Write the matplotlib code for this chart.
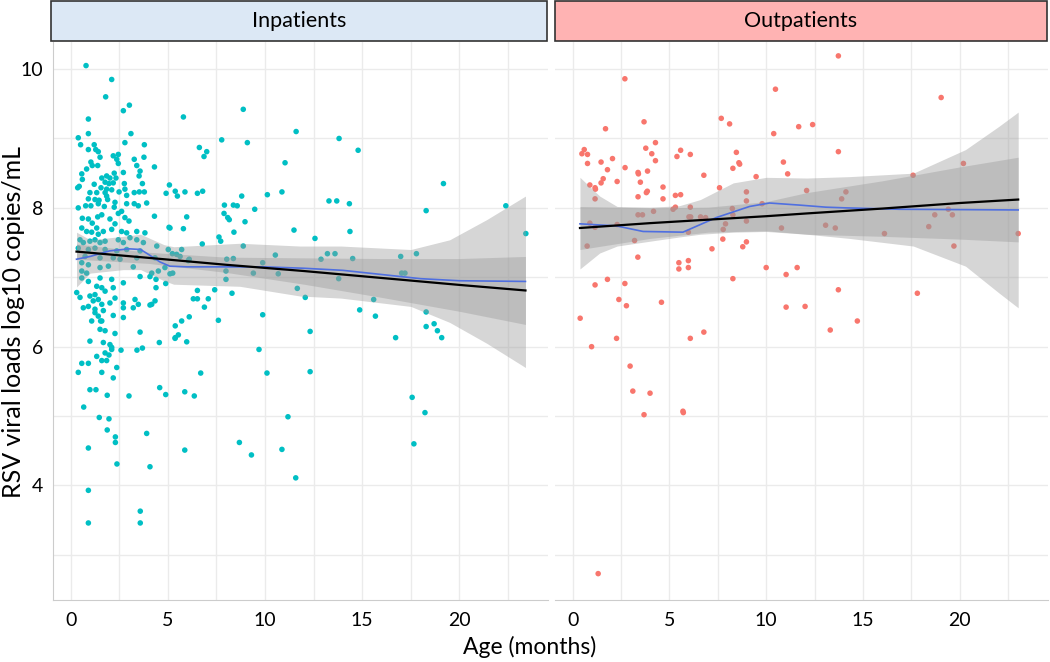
import matplotlib
matplotlib.use("Agg")
import matplotlib.pyplot as plt
from matplotlib.patches import Rectangle
import numpy as np

plt.rcParams['font.family'] = ['Lato', 'DejaVu Sans']

# (age in months, log10 viral load)
inpatients = [
    (0.79, 10.05), (2.11, 9.85), (1.80, 9.60), (0.91, 9.28), (2.71, 9.40), (3.02, 9.48),
    (5.80, 9.31), (8.88, 9.42), (0.39, 9.01), (0.91, 9.07), (0.51, 8.91), (3.10, 9.07),
    (2.79, 8.94), (3.79, 8.91), (7.77, 8.98), (9.09, 8.94), (11.60, 9.10), (13.81, 9.00),
    (6.62, 8.87), (7.00, 8.81), (6.86, 8.74), (11.03, 8.65), (4.31, 8.59), (5.08, 8.33),
    (4.91, 8.21), (5.38, 8.24), (5.49, 8.17), (5.88, 8.23), (6.52, 8.21), (6.79, 8.24),
    (7.91, 8.04), (8.37, 8.04), (7.89, 7.92), (8.08, 7.86), (8.16, 7.83), (9.47, 7.98),
    (10.12, 8.19), (10.87, 8.23), (13.29, 8.10), (13.69, 8.10), (8.97, 7.80), (5.80, 7.70),
    (5.06, 7.72), (5.97, 7.87), (7.63, 7.58), (7.72, 7.52), (8.40, 7.65), (6.77, 7.48),
    (11.49, 7.68), (12.57, 7.56), (8.88, 7.45), (13.21, 7.34), (13.60, 7.34), (12.88, 7.26),
    (10.53, 7.32), (9.88, 7.21), (9.40, 7.06), (10.68, 7.05), (8.03, 7.26), (8.37, 7.27),
    (7.99, 6.97), (6.05, 7.24), (5.63, 7.30), (5.23, 7.34), (5.25, 7.06), (4.89, 6.91),
    (11.66, 6.84), (12.07, 6.71), (8.30, 6.77), (7.60, 6.38), (9.88, 6.46), (12.32, 6.22),
    (6.52, 6.69), (6.31, 6.69), (7.08, 6.69), (6.52, 6.81), (6.10, 6.43), (5.71, 6.37),
    (5.38, 6.30), (5.54, 6.17), (3.57, 6.21), (4.08, 6.60), (3.57, 7.01), (4.08, 7.01),
    (4.39, 6.97), (4.39, 6.85),
    (14.34, 8.06), (8.80, 8.17), (8.57, 8.03), (7.41, 6.82), (6.88, 6.57), (13.79, 6.98),
    (5.97, 6.07), (5.38, 6.13), (5.11, 7.05), (7.99, 7.09), (5.45, 7.33), (6.10, 7.26),
    (9.69, 5.96), (6.69, 5.62), (10.10, 5.62), (12.32, 5.64), (5.71, 7.40),
    (14.79, 8.83), (19.18, 8.35), (18.29, 7.96), (22.39, 8.03), (23.42, 7.63), (14.37, 7.66),
    (14.51, 7.27), (16.98, 7.30), (17.79, 7.34), (17.03, 7.06), (17.20, 7.06), (15.59, 6.68),
    (14.87, 6.53), (15.68, 6.44), (18.29, 6.50), (18.29, 6.29), (18.70, 6.33), (18.87, 6.23),
    (19.09, 6.13), (16.72, 6.13), (17.57, 5.27), (18.23, 5.05), (17.66, 4.60),
    (4.56, 6.06), (5.37, 6.12), (4.58, 5.41), (4.89, 5.31), (5.87, 5.35), (6.36, 5.29),
    (3.00, 5.29), (5.87, 4.51), (8.68, 4.62), (9.30, 4.44), (10.87, 4.52), (11.18, 4.99),
    (11.58, 4.11), (3.91, 4.75), (4.08, 4.27), (2.38, 4.31), (0.91, 4.54), (2.30, 4.70),
    (2.30, 4.62), (1.88, 4.80), (1.47, 4.98), (1.97, 4.96), (0.67, 5.13), (0.99, 5.38),
    (1.30, 5.38), (1.88, 5.30), (0.91, 3.93), (0.91, 3.46), (3.58, 3.63), (3.58, 3.46),
    (3.41, 5.95), (3.69, 5.98), (2.59, 5.95),
    (1.21, 8.91), (0.91, 8.84), (1.29, 8.84), (1.42, 8.81), (1.51, 8.73), (2.19, 8.75),
    (2.45, 8.77), (2.37, 8.70), (3.27, 8.70), (3.77, 8.73), (1.04, 8.66), (1.11, 8.61),
    (1.39, 8.61), (0.82, 8.56), (2.45, 8.64), (3.40, 8.61), (0.57, 8.49), (2.71, 8.51),
    (3.57, 8.53), (3.52, 8.46), (0.60, 8.41), (1.60, 8.43), (1.85, 8.46), (2.02, 8.43),
    (2.24, 8.50), (2.33, 8.43), (1.77, 8.37), (1.97, 8.35), (2.19, 8.36), (1.21, 8.34),
    (0.44, 8.31), (0.36, 8.29), (2.76, 8.35), (3.69, 8.35), (1.56, 8.29), (1.85, 8.27),
    (2.11, 8.26), (2.79, 8.27), (0.99, 8.22), (1.34, 8.22), (1.77, 8.22), (2.49, 8.23),
    (3.27, 8.22), (3.53, 8.23), (3.79, 8.23), (2.88, 8.18), (1.85, 8.17), (0.91, 8.13),
    (1.25, 8.12), (1.46, 8.11), (1.90, 8.12), (2.28, 8.08), (3.27, 8.06), (3.91, 8.07),
    (0.39, 8.00), (0.77, 8.03), (1.04, 8.03), (1.42, 8.06), (1.73, 8.02), (2.24, 8.01),
    (2.88, 8.06), (3.48, 8.03), (4.31, 7.88), (2.62, 7.95), (2.45, 7.92), (0.60, 7.85),
    (0.91, 7.84), (1.11, 7.78), (1.39, 7.87), (1.60, 7.90), (2.02, 7.84), (2.28, 7.77),
    (2.79, 7.86), (3.00, 7.81), (5.11, 7.71),
    (0.57, 7.71), (0.82, 7.66), (1.08, 7.65), (1.34, 7.71), (1.42, 7.62), (1.68, 7.66),
    (2.11, 7.69), (2.62, 7.66), (2.88, 7.64), (3.40, 7.66), (3.82, 7.64), (0.48, 7.54),
    (0.65, 7.50), (0.99, 7.52), (1.25, 7.54), (1.51, 7.50), (1.77, 7.52), (2.45, 7.54),
    (2.71, 7.50), (3.05, 7.57), (3.40, 7.54), (3.74, 7.50), (4.43, 7.45), (5.02, 7.40),
    (0.39, 7.42), (0.91, 7.40), (1.25, 7.42), (1.77, 7.40), (2.37, 7.38), (2.88, 7.40),
    (3.57, 7.38), (0.74, 7.30), (1.51, 7.28), (2.19, 7.28), (2.54, 7.26), (3.40, 7.28),
    (4.34, 7.28), (0.57, 7.21), (0.91, 7.18), (1.94, 7.16), (3.22, 7.15), (4.85, 7.14),
    (0.57, 7.09), (0.82, 7.06), (1.51, 7.14), (4.17, 7.06), (4.51, 7.09), (0.57, 6.99),
    (0.91, 6.94), (1.51, 6.99), (2.11, 6.97), (2.71, 6.92), (0.31, 6.78), (0.48, 6.71),
    (0.99, 6.73), (1.25, 6.75), (1.34, 6.87), (1.60, 6.85), (1.77, 6.80), (2.19, 6.85),
    (1.16, 6.66), (1.42, 6.68), (1.60, 6.61), (2.02, 6.63), (2.28, 6.70), (2.71, 6.63),
    (3.31, 6.68), (3.48, 6.61), (4.34, 6.66), (0.65, 6.56), (0.91, 6.58), (1.25, 6.54),
    (1.68, 6.52), (2.71, 6.56), (3.22, 6.56), (4.17, 6.61), (1.25, 6.49), (1.42, 6.44),
    (2.19, 6.45), (2.71, 6.42), (1.08, 6.37), (1.60, 6.37), (1.51, 6.25), (1.77, 6.23),
    (2.28, 6.19), (0.99, 6.08), (1.68, 6.06), (2.02, 6.03), (2.11, 5.99), (1.34, 5.86),
    (1.77, 5.91), (1.60, 5.80), (1.85, 5.80), (0.57, 5.76), (0.91, 5.76), (2.37, 5.70),
    (0.39, 5.63), (1.60, 5.63), (2.19, 5.55), (1.54, 6.37), (2.11, 5.96), (1.97, 5.88),
]

outpatients = [
    (13.73, 10.19), (2.70, 9.86), (10.48, 9.71), (3.69, 9.24), (1.70, 9.14), (7.68, 9.29),
    (8.11, 9.21), (10.39, 9.07), (11.68, 9.17), (12.40, 9.20), (0.48, 8.78), (0.60, 8.84),
    (0.77, 8.77), (0.77, 8.64), (1.47, 8.66), (2.06, 8.71), (1.80, 8.55), (2.71, 8.58),
    (3.78, 8.86), (4.09, 8.78), (4.28, 8.94), (4.28, 8.68), (3.38, 8.51), (3.40, 8.49),
    (3.87, 8.53), (3.50, 8.37), (3.81, 8.22), (3.86, 8.24), (3.38, 8.16), (4.67, 8.30),
    (4.67, 8.13), (5.39, 8.74), (5.58, 8.83), (6.08, 8.77), (6.78, 8.47), (8.46, 8.80),
    (8.59, 8.65), (8.63, 8.63), (8.28, 8.57), (9.48, 8.45), (10.89, 8.66), (11.11, 8.49),
    (13.73, 8.81), (1.58, 8.42), (1.47, 8.36), (1.16, 8.29), (1.18, 8.27), (0.89, 8.33),
    (1.16, 8.13), (2.30, 8.38), (5.31, 8.18), (5.58, 8.19), (5.31, 8.01), (5.19, 7.98),
    (3.38, 7.90), (3.61, 7.90), (4.18, 7.95), (6.08, 8.01), (6.01, 7.87), (6.10, 7.87),
    (6.61, 7.87), (6.87, 7.86), (7.59, 8.29), (8.98, 8.23), (8.98, 8.10), (8.25, 7.99),
    (8.28, 7.90), (7.90, 7.77), (7.78, 7.69), (7.76, 7.55), (8.98, 7.81), (9.79, 8.06),
    (12.09, 8.25), (13.07, 7.75), (13.57, 7.71), (14.12, 8.23), (13.90, 8.13), (10.79, 7.71),
    (0.89, 7.78), (1.16, 7.72), (2.30, 7.76), (0.75, 7.45), (3.20, 7.53), (3.37, 7.29),
    (5.98, 7.65), (7.20, 7.41), (8.79, 7.44), (8.98, 7.51), (5.49, 7.21), (5.49, 7.12),
    (5.98, 7.24), (5.98, 7.14), (8.28, 6.98), (10.00, 7.14), (11.03, 7.04), (11.60, 7.14),
    (1.16, 6.89), (1.80, 6.97), (2.70, 6.91), (2.39, 6.68), (2.78, 6.59), (4.59, 6.64),
    (0.39, 6.41), (11.03, 6.57), (12.01, 6.58), (13.73, 6.82), (13.31, 6.24), (6.78, 6.21),
    (2.27, 6.12), (6.08, 6.12), (0.98, 6.00), (2.97, 5.72), (3.11, 5.36), (4.00, 5.33),
    (3.69, 5.02), (5.70, 5.07), (5.72, 5.05), (1.32, 2.73), (19.04, 9.59), (20.19, 8.64),
    (17.59, 8.47), (19.41, 7.98), (18.71, 7.90), (19.62, 7.90), (18.40, 7.73), (16.11, 7.63),
    (19.70, 7.45), (23.02, 7.63), (17.81, 6.77), (14.71, 6.37),
]

# smoothers
in_lm_x = [0.3, 4, 8, 12, 16, 20, 23.4]
in_lm_y = [7.37, 7.28, 7.18, 7.09, 6.99, 6.89, 6.81]
in_lm_lo = [7.26, 7.20, 7.07, 6.90, 6.71, 6.51, 6.32]
in_lm_hi = [7.48, 7.36, 7.29, 7.28, 7.27, 7.27, 7.30]

in_lo_x = [0.3, 1, 2, 3, 3.6, 4, 4.6, 5.1, 6, 8, 10, 12, 14, 16, 18, 20, 23.4]
in_lo_y = [7.26, 7.30, 7.38, 7.41, 7.40, 7.33, 7.22, 7.16, 7.15, 7.15, 7.15, 7.13,
           7.10, 7.04, 6.98, 6.95, 6.94]
in_band_x = [0.3, 1.0, 2.7, 3.6, 4.8, 5.3, 8.7, 11.8, 13.9, 17.5, 19.5, 21.4, 23.4]
in_band_hi = [7.65, 7.54, 7.59, 7.62, 7.47, 7.44, 7.49, 7.45, 7.45, 7.40, 7.54, 7.83, 8.17]
in_band_lo = [6.86, 7.06, 7.11, 7.11, 6.95, 6.90, 6.87, 6.73, 6.70, 6.58, 6.35, 6.05, 5.70]

out_lm_x = [0.38, 4, 7, 10, 12.1, 16, 20, 23.02]
out_lm_y = [7.71, 7.78, 7.83, 7.88, 7.92, 7.99, 8.07, 8.12]
out_lm_lo = [7.40, 7.56, 7.65, 7.67, 7.62, 7.59, 7.55, 7.51]
out_lm_hi = [8.02, 8.00, 8.01, 8.09, 8.22, 8.39, 8.59, 8.73]

out_lo_x = [0.38, 2.27, 3.64, 5.70, 7.42, 9.14, 10.17, 11.72, 13.09, 14.12, 16.87, 23.02]
out_lo_y = [7.77, 7.74, 7.66, 7.65, 7.86, 8.02, 8.07, 8.04, 8.01, 8.00, 7.98, 7.97]
out_band_x = [0.38, 1.4, 2.3, 4.0, 5.5, 6.6, 8.3, 10.0, 12.1, 14.3, 17.6, 20.3, 22.0, 23.02]
out_band_hi = [8.44, 8.17, 8.02, 8.01, 8.03, 8.12, 8.36, 8.44, 8.43, 8.45, 8.50, 8.84, 9.17, 9.38]
out_band_lo = [7.12, 7.35, 7.45, 7.52, 7.58, 7.62, 7.65, 7.66, 7.62, 7.56, 7.45, 7.16, 6.78, 6.56]

panels = [
    ("Inpatients", inpatients, "#00BFC4", "#DCE8F5",
     (in_lm_x, in_lm_y, in_lm_lo, in_lm_hi),
     (in_lo_x, in_lo_y, in_band_x, in_band_lo, in_band_hi)),
    ("Outpatients", outpatients, "#F8766D", "#FFB3B3",
     (out_lm_x, out_lm_y, out_lm_lo, out_lm_hi),
     (out_lo_x, out_lo_y, out_band_x, out_band_lo, out_band_hi)),
]

fig = plt.figure(figsize=(10.5, 6.62), dpi=100)
lefts = [53 / 1050, 555 / 1050]
widths = [495 / 1050, 493 / 1050]
bottom = 1 - 600 / 662
height = 558 / 662

for i, (title, pts, col, strip_col, lm, lo) in enumerate(panels):
    ax = fig.add_axes([lefts[i], bottom, widths[i], height])
    age = np.array([p[0] for p in pts])
    load = np.array([p[1] for p in pts])

    ax.scatter(age, load, s=16, color=col, edgecolors='none', zorder=2)

    lx, ly, llo, lhi = lm
    sx, sy, bx, blo, bhi = lo
    ax.fill_between(bx, blo, bhi, color='#999999', alpha=0.4, linewidth=0, zorder=3)
    ax.fill_between(lx, llo, lhi, color='#999999', alpha=0.4, linewidth=0, zorder=3)
    ax.plot(sx, sy, color='#4f6fe0', lw=1.2, zorder=4)
    ax.plot(lx, ly, color='black', lw=1.6, zorder=5)

    ax.set_xlim(-0.91, 24.56)
    ax.set_ylim(2.35, 10.39)
    ax.set_xticks([0, 5, 10, 15, 20])
    ax.set_xticks([2.5, 7.5, 12.5, 17.5, 22.5], minor=True)
    ax.set_yticks([4, 6, 8, 10])
    ax.set_yticks([3, 5, 7, 9], minor=True)
    ax.grid(True, which='both', color='#EBEBEB', lw=1.0, zorder=0)
    ax.set_axisbelow(True)
    ax.tick_params(which='both', length=0, labelsize=14, colors='black')
    ax.tick_params(axis='x', pad=9)
    ax.tick_params(axis='y', pad=7)

    for s in ['top', 'right']:
        ax.spines[s].set_visible(False)
    ax.spines['bottom'].set_color('#CCCCCC')
    ax.spines['left'].set_color('#CCCCCC')
    if i == 1:
        ax.spines['left'].set_visible(False)
        ax.set_yticklabels([])

    # strip header
    sx0 = lefts[i] - (2 / 1050 if i == 0 else 0)
    sw = widths[i] + (2 / 1050 if i == 0 else 0) - 1 / 1050
    fig.patches.append(Rectangle((sx0, 1 - 41 / 662), sw, 40 / 662,
                                 transform=fig.transFigure, facecolor=strip_col,
                                 edgecolor='#333333', lw=1.2))
    fig.text(sx0 + sw / 2, 1 - 21 / 662, title, ha='center', va='center', fontsize=15.5)

fig.text(530 / 1050, 1 - 647 / 662, "Age (months)", ha='center', va='center', fontsize=16.5)
fig.text(14 / 1050, 1 - 322 / 662, "RSV viral loads log10 copies/mL", ha='center', va='center',
         rotation=90, fontsize=18)

fig.savefig("out.png", dpi=100)
